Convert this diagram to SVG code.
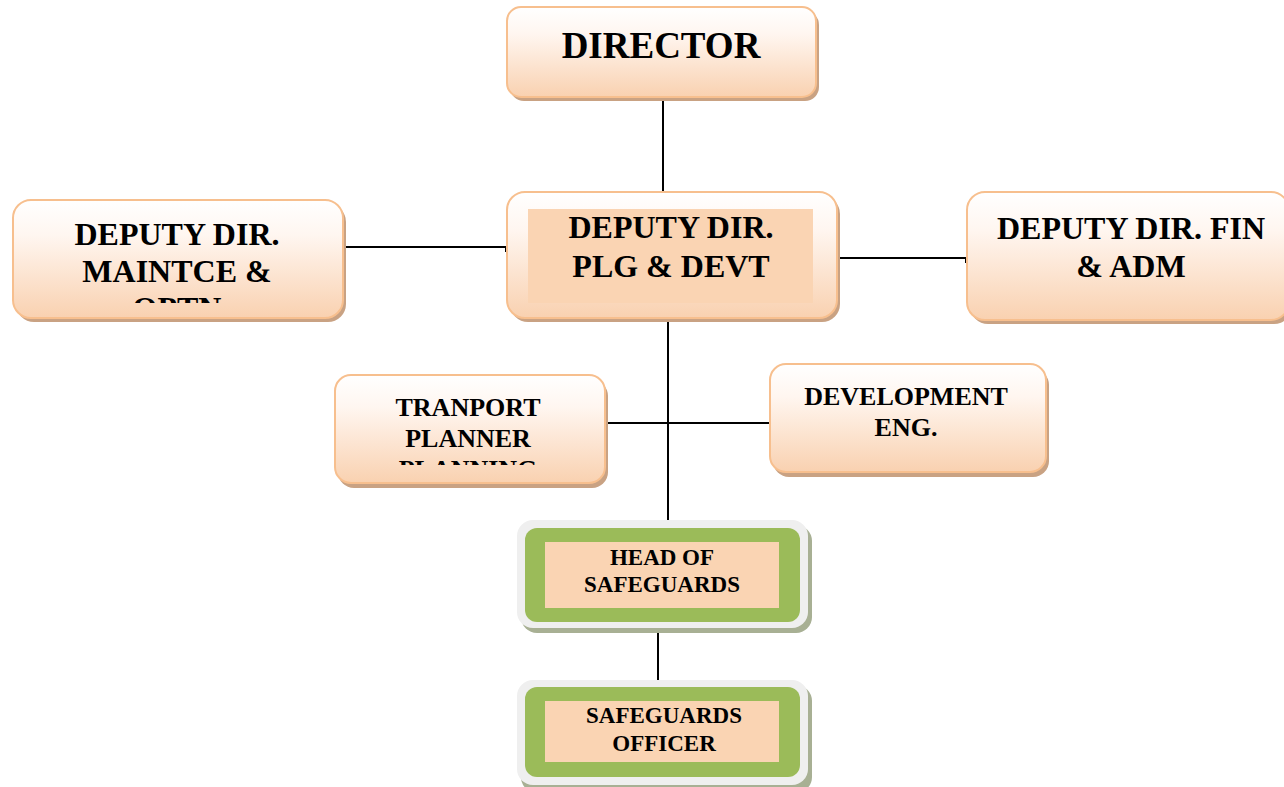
<svg xmlns="http://www.w3.org/2000/svg" width="1284" height="787" viewBox="0 0 1284 787">
  <defs>
    <linearGradient id="peachFade" x1="0" y1="0" x2="0" y2="1">
      <stop offset="0" stop-color="#ffffff"/>
      <stop offset="0.3" stop-color="#fff6f0"/>
      <stop offset="1" stop-color="#f9d1b0"/>
    </linearGradient>
    <clipPath id="clipMaint"><rect x="13" y="205" width="330" height="98"/></clipPath>
    <clipPath id="clipTrans"><rect x="335" y="380" width="270" height="85"/></clipPath>
  </defs>
  <style>
    .shadow { fill: #c9a283; }
    .card { fill: url(#peachFade); stroke: #f7bf8e; stroke-width: 2; }
    .inner { fill: #fad4b3; }
    .gshadow { fill: #a8b094; }
    .gouter { fill: #efefef; }
    .green { fill: #9bbb59; }
    .label { font-family: "Liberation Serif", "Times New Roman", serif; font-weight: bold; fill: #000; text-anchor: middle; }
    .big { font-size: 37px; }
    .mid { font-size: 32px; }
    .small { font-size: 26px; }
    .tiny { font-size: 23px; }
    .link { fill: none; stroke: #000; stroke-width: 2; }
  </style>

  <!-- connectors -->
  <g id="connectors">
    <path class="link" d="M663,97 V192"/>
    <path class="link" d="M343,243 V247 H506 V252"/>
    <path class="link" d="M836,254 V258 H966 V263"/>
    <path class="link" d="M668,318 V520"/>
    <path class="link" d="M603,419 V423 H770 V430"/>
    <path class="link" d="M658,628 V680"/>
  </g>

  <g id="director">
    <rect class="shadow" x="510" y="11" width="309" height="90" rx="14"/>
    <rect class="card" x="507" y="7" width="309" height="90" rx="14"/>
    <text class="label big" x="661" y="58">DIRECTOR</text>
  </g>

  <g id="deputy-maintce">
    <rect class="shadow" x="16" y="204" width="330" height="118" rx="18"/>
    <rect class="card" x="13" y="200" width="330" height="118" rx="18"/>
    <g clip-path="url(#clipMaint)">
      <text class="label mid" x="177" y="245">DEPUTY DIR.</text>
      <text class="label mid" x="177" y="282">MAINTCE &amp;</text>
      <text class="label mid" x="177" y="319">OPTN</text>
    </g>
  </g>

  <g id="deputy-plg">
    <rect class="shadow" x="510" y="196" width="330" height="126" rx="18"/>
    <rect class="card" x="507" y="192" width="330" height="126" rx="18"/>
    <rect class="inner" x="528" y="209" width="285" height="94"/>
    <text class="label mid" x="671" y="238">DEPUTY DIR.</text>
    <text class="label mid" x="671" y="277">PLG &amp; DEVT</text>
  </g>

  <g id="deputy-fin">
    <rect class="shadow" x="970" y="196" width="322" height="128" rx="18"/>
    <rect class="card" x="967" y="192" width="322" height="128" rx="18"/>
    <text class="label mid" x="1131" y="239">DEPUTY DIR. FIN</text>
    <text class="label mid" x="1131" y="277">&amp; ADM</text>
  </g>

  <g id="transport-planner">
    <rect class="shadow" x="338" y="380" width="270" height="108" rx="16"/>
    <rect class="card" x="335" y="375" width="270" height="108" rx="16"/>
    <g clip-path="url(#clipTrans)">
      <text class="label small" x="468" y="416">TRANPORT</text>
      <text class="label small" x="468" y="447">PLANNER</text>
      <text class="label small" x="468" y="478">PLANNING</text>
    </g>
  </g>

  <g id="development-eng">
    <rect class="shadow" x="773" y="369" width="276" height="108" rx="16"/>
    <rect class="card" x="770" y="364" width="276" height="108" rx="16"/>
    <text class="label small" x="906" y="405">DEVELOPMENT</text>
    <text class="label small" x="906" y="436">ENG.</text>
  </g>

  <g id="head-safeguards">
    <rect class="gshadow" x="521" y="525" width="291" height="108" rx="16"/>
    <rect class="gouter" x="517" y="520" width="291" height="108" rx="16"/>
    <rect class="green" x="525" y="528" width="275" height="94" rx="12"/>
    <rect class="inner" x="545" y="542" width="234" height="66"/>
    <text class="label tiny" x="662" y="565">HEAD OF</text>
    <text class="label tiny" x="662" y="592">SAFEGUARDS</text>
  </g>

  <g id="safeguards-officer">
    <rect class="gshadow" x="521" y="685" width="291" height="108" rx="16"/>
    <rect class="gouter" x="517" y="680" width="291" height="105" rx="16"/>
    <rect class="green" x="525" y="687" width="275" height="90" rx="12"/>
    <rect class="inner" x="545" y="701" width="234" height="61"/>
    <text class="label tiny" x="664" y="723">SAFEGUARDS</text>
    <text class="label tiny" x="664" y="751">OFFICER</text>
  </g>
</svg>
